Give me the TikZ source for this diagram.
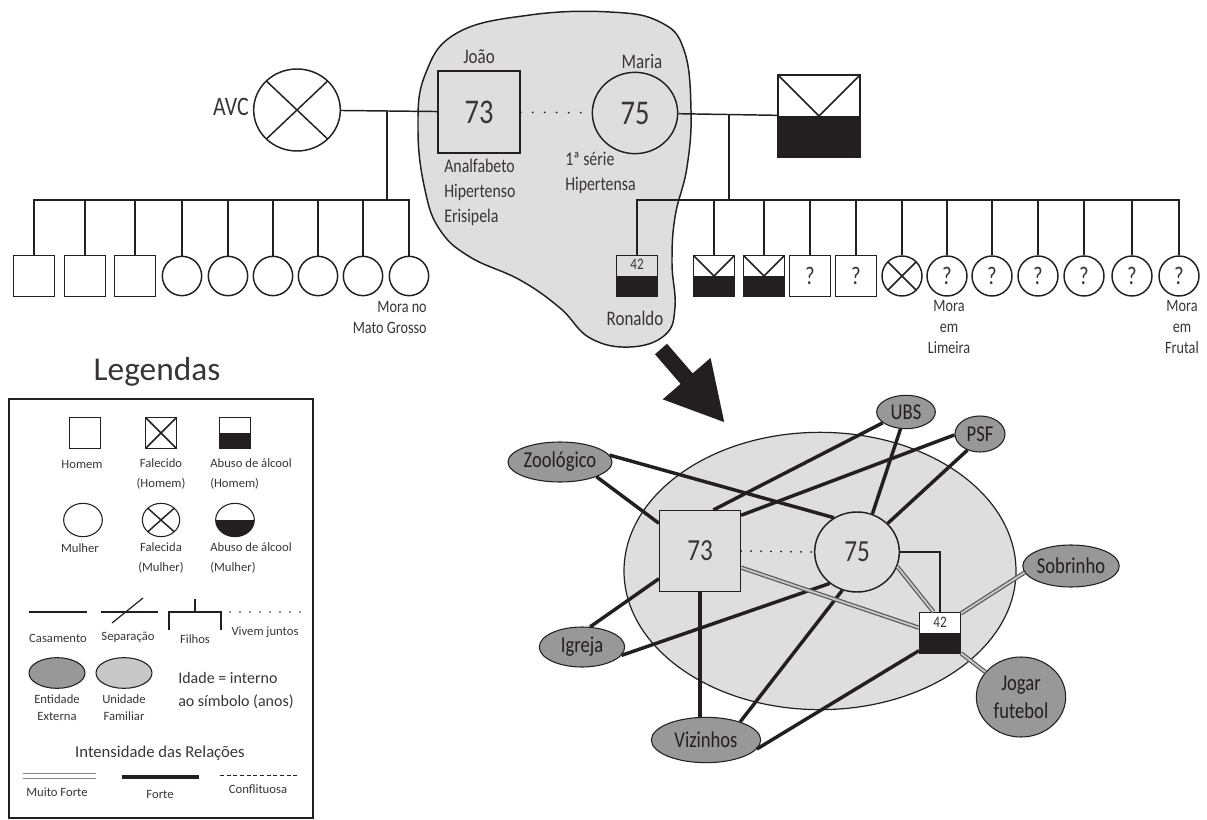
\documentclass[tikz,border=0pt]{standalone}
\usepackage{fontspec}
\setmainfont{Carlito}
\newfontfamily\estreita{Carlito}[FakeStretch=0.82]
\usepackage{tikz}
\usetikzlibrary{shapes.geometric,arrows.meta}
\definecolor{tinta}{RGB}{35,31,32}
\definecolor{cinzaclaro}{RGB}{222,222,222}
\definecolor{cinzaent}{RGB}{152,152,152}
\definecolor{cinzauni}{RGB}{200,200,200}

\tikzset{
  traco/.style={draw=tinta, line width=1.1pt},
  homem/.style={traco, rectangle, inner sep=0pt, minimum size=#1},
  mulher/.style={traco, circle, inner sep=0pt, minimum size=#1},
  cruz/.style={path picture={
    \draw[tinta, line width=1.1pt] (path picture bounding box.north west) -- (path picture bounding box.south east)
      (path picture bounding box.north east) -- (path picture bounding box.south west);}},
  alcool/.style={path picture={
    \fill[tinta] (path picture bounding box.west) rectangle (path picture bounding box.south east);}},
  cruzalcool/.style={path picture={
    \draw[tinta, line width=1.1pt] (path picture bounding box.north west) -- (path picture bounding box.south east)
      (path picture bounding box.north east) -- (path picture bounding box.south west);
    \fill[tinta] (path picture bounding box.west) rectangle (path picture bounding box.south east);}},
  rotulo/.style={inner sep=0pt, text=tinta!90, font=\estreita\fontsize{14.5}{18.75}\selectfont},
  nota/.style={inner sep=0pt, text=tinta!90, font=\estreita\fontsize{13}{15.75}\selectfont},
  legtxt/.style={inner sep=0pt, text=tinta!90, font=\fontsize{9.5}{15}\selectfont},
  vivem/.style={draw=tinta, line width=1.5pt, line cap=round, dash pattern=on 0pt off #1},
  vivem/.default=8pt,
  forte/.style={draw=tinta, line width=2.6pt},
  muitoforte/.style={draw=black!65, double=black!22, double distance=1.4pt, line width=0.9pt},
  fino/.style={draw=tinta, line width=0.9pt},
  entidade/.style={draw=tinta, line width=0.8pt, fill=cinzaent, ellipse, inner sep=0pt, text=tinta,
    font=\estreita\fontsize{17}{21}\selectfont},
}

\begin{document}
\begin{tikzpicture}[x=0.75pt,y=0.75pt,yscale=-1,xscale=1]
\useasboundingbox (0,0) rectangle (1207,820);

%Shape: Blob (unidade familiar)
\filldraw[fill=cinzaclaro, draw=tinta, line width=1.1pt] plot[smooth cycle, tension=0.7] coordinates {
  (457,33) (530,15) (610,12) (660,22) (684,50) (691,110) (687,167) (675,217) (672,263) (675,307)
  (665,335) (630,347) (590,338) (560,308) (520,280) (470,257) (440,230) (425,190) (418,130) (425,75)};

%Genograma: pais
\node[mulher=61.5pt, ellipse, minimum width=65pt, cruz] (avc) at (297,110) {};
\node[homem=61.5pt, font=\estreita\fontsize{26}{28}\selectfont, text=tinta!90] (joao) at (479,112) {73};
\node[mulher=61pt, ellipse, minimum width=64pt, font=\estreita\fontsize{26}{28}\selectfont, text=tinta!90] (maria) at (635,113) {75};
\node[homem=61.5pt, cruzalcool] (marido2) at (819,116) {};

% Text Node
\node[rotulo, font=\estreita\fontsize{20}{22}\selectfont, anchor=east] (avclbl) at (249,107) {AVC};
\node[rotulo, font=\estreita\fontsize{15.5}{17}\selectfont] (joaolbl) at (479,57) {João};
\node[rotulo, font=\estreita\fontsize{15.5}{17}\selectfont] (marialbl) at (642,61) {Maria};
\node[rotulo, align=left, anchor=north west] (joaoobs) at (444,159) {Analfabeto\\Hipertenso\\Erisipela};
\node[rotulo, align=left, anchor=north west] (mariaobs) at (565,152) {1ª série\\Hipertensa};

%Straight Lines: casamentos
\draw[traco] (avc) -- (joao);
\draw[vivem=9pt] (joao) -- (maria);
\draw[traco] (maria) -- (marido2);

%Filhos do primeiro casamento
\coordinate (uniao1) at (387,111);
\coordinate (barraE) at (0,200);
\draw[traco] (uniao1) -- (uniao1 |- barraE);
\foreach \n/\x in {fm1/34,fm2/85,fm3/135}{
  \node[homem=31pt] (\n) at (\x,276) {};
  \draw[traco] (\n.north) -- (\n.north |- barraE);
}
\foreach \n/\x in {fe1/182,fe2/228,fe3/273,fe4/318,fe5/363,fe6/409}{
  \node[mulher=29.5pt] (\n) at (\x,276) {};
  \draw[traco] (\n.north) -- (\n.north |- barraE);
}
\draw[traco] (fm1.north) |- (barraE -| fe6.north) -- (fe6.north);
\node[nota, align=right, anchor=north east] (fe6obs) at (427,301) {Mora no\\Mato Grosso};

%Filhos do segundo casamento
\coordinate (uniao2) at (729,114);
\coordinate (barraD) at (0,200);
\draw[traco] (uniao2) -- (uniao2 |- barraD);
\node[homem=31pt, alcool] (ron) at (637,276) {};
\node[anchor=north, inner sep=3.5pt, text=tinta!90, font=\estreita\fontsize{12}{12}\selectfont] (ronidade) at (ron.north) {42};
\node[rotulo, font=\estreita\fontsize{15.5}{17}\selectfont] (ronlbl) at (635,318) {Ronaldo};
\foreach \n/\x in {fd1/714,fd2/764}{
  \node[homem=31pt, cruzalcool] (\n) at (\x,276) {};
  \draw[traco] (\n.north) -- (\n.north |- barraD);
}
\foreach \n/\x in {fq1/810,fq2/856}{
  \node[homem=31pt, text=tinta!90, font=\estreita\fontsize{19}{19}\selectfont] (\n) at (\x,276) {?};
  \draw[traco] (\n.north) -- (\n.north |- barraD);
}
\node[mulher=30pt, cruz] (fx) at (902,276) {};
\draw[traco] (fx.north) -- (fx.north |- barraD);
\foreach \n/\x in {fc1/947,fc2/992,fc3/1038,fc4/1084,fc5/1132,fc6/1179}{
  \node[mulher=30pt, text=tinta!90, font=\estreita\fontsize{19}{19}\selectfont] (\n) at (\x,276) {?};
  \draw[traco] (\n.north) -- (\n.north |- barraD);
}
\draw[traco] (ron.north) |- (barraD -| fc6.north) -- (fc6.north);
\node[nota, align=center, anchor=north] (fc1obs) at (949,300) {Mora\\em\\Limeira};
\node[nota, align=center, anchor=north] (fc6obs) at (1182,300) {Mora\\em\\Frutal};

%Seta para o ecomapa
\coordinate (setaini) at (661,349);
\coordinate (setafim) at (725,423);
\draw[tinta, line width=12pt, -{Triangle[length=44pt, width=44pt]}] (setaini) -- (setafim);

%Ecomapa
\node[ellipse, draw=tinta, line width=0.9pt, fill=cinzaclaro, minimum width=294pt, minimum height=208pt] (familia) at (820,571) {};
\node[homem=60.5pt, fill=cinzaclaro, text=tinta!90, font=\estreita\fontsize{23}{25}\selectfont] (e73) at (700,551) {73};
\node[mulher=60pt, ellipse, minimum width=63.5pt, fill=cinzaclaro, text=tinta!90, font=\estreita\fontsize{23}{25}\selectfont] (e75) at (857,552) {75};
\node[homem=30.5pt, fill=white, alcool] (e42) at (940,633) {};
\node[anchor=north, inner sep=3.5pt, text=tinta!90, font=\estreita\fontsize{12}{12}\selectfont] (e42idade) at (e42.north) {42};

\node[entidade, minimum width=78pt, minimum height=30pt] (zoo) at (560,462) {Zoológico};
\node[entidade, minimum width=44pt, minimum height=25pt] (ubs) at (906,412) {UBS};
\node[entidade, minimum width=37.5pt, minimum height=27pt] (psf) at (980,434) {PSF};
\node[entidade, minimum width=70pt, minimum height=31.5pt] (sob) at (1071,566) {Sobrinho};
\node[entidade, minimum width=64pt, minimum height=30pt] (igr) at (582,647) {Igreja};
\node[entidade, minimum width=82pt, minimum height=34pt] (viz) at (706,740) {Vizinhos};
\node[entidade, minimum width=67pt, minimum height=60pt, align=center] (jog) at (1021,697) {Jogar\\futebol};

%Relacoes
\draw[vivem=7.5pt] (e73.east) -- (e75.west);
\draw[forte] (zoo.-22) -- (e73.146);
\draw[forte] (zoo.8) -- (e75.124);
\draw[forte] (ubs.205) -- (e73.72);
\draw[forte] (psf.182) -- (e73.41);
\draw[forte] (ubs.252) -- (e75.68);
\draw[forte] (psf.232) -- (e75.43);
\draw[forte] (e73.214) -- (igr.68);
\draw[forte] (e75.229) -- (igr.-12);
\draw[forte] (e73.south) -- (e73.south |- viz.north);
\draw[forte] (e75.249) -- (viz.28);
\draw[forte] (e42.220) -- (viz.-10);
\draw[fino] (e75.east) -| (e42.north);
\draw[muitoforte] (e75.-20) -- (e42.107);
\draw[muitoforte] (e73.-22) -- (e42.166);
\draw[muitoforte] (e42.43) -- (sob.188);
\draw[muitoforte] (e42.-44) -- (jog.145);

%Legenda
\node[inner sep=0pt, text=tinta!90, font=\fontsize{25}{27}\selectfont] (legtitulo) at (157,372) {Legendas};
\draw[tinta, line width=1.1pt] (9,399) rectangle (313,818);

\node[homem=23pt, line width=0.8pt] (lhomem) at (85,433) {};
\node[homem=23pt, line width=0.8pt, cruz] (lfalecido) at (161,433) {};
\node[homem=23pt, line width=0.8pt, alcool] (lalcool) at (235,433) {};
\node[legtxt] (lhomemtxt) at (82,464) {Homem};
\node[legtxt, align=center] (lfalecidotxt) at (161,474) {Falecido\\(Homem)};
\node[legtxt, align=left, anchor=west] (lalcooltxt) at (210,474) {Abuso de álcool\\(Homem)};

\node[mulher=25pt, ellipse, minimum width=29pt, line width=0.8pt] (lmulher) at (83,520) {};
\node[mulher=25pt, ellipse, minimum width=28pt, line width=0.8pt, cruz] (lfalecida) at (161,520) {};
\node[mulher=25pt, ellipse, minimum width=29pt, line width=0.8pt, alcool] (lalcoolm) at (235,520) {};
\node[legtxt] (lmulhertxt) at (80,548) {Mulher};
\node[legtxt, align=center] (lfalecidatxt) at (161,558) {Falecida\\(Mulher)};
\node[legtxt, align=left, anchor=west] (lalcoolmtxt) at (210,558) {Abuso de álcool\\(Mulher)};

%Legenda: linhas
\draw[traco, line width=0.9pt] (29,612) -- (87,612);
\draw[traco, line width=0.9pt] (101,612) -- (158,612);
\draw[traco, line width=0.9pt] (112,623) -- (143,598);
\draw[traco, line width=0.9pt] (169,630) -- (169,612) -- (221,612) -- (221,630);
\draw[traco, line width=0.9pt] (195,612) -- (195,599);
\draw[vivem=7.5pt, line width=1.2pt] (230,612) -- (302,612);
\node[legtxt] (lcasamento) at (58,638) {Casamento};
\node[legtxt] (lseparacao) at (128,637) {Separação};
\node[legtxt] (lfilhos) at (195,639) {Filhos};
\node[legtxt] (lvivem) at (265,632) {Vivem juntos};

\node[ellipse, draw=tinta, line width=0.8pt, fill=cinzaent, minimum width=42pt, minimum height=23pt] (lentidade) at (57,673) {};
\node[ellipse, draw=tinta, line width=0.8pt, fill=cinzauni, minimum width=42pt, minimum height=23pt] (lunidade) at (124,673) {};
\node[legtxt, align=center, font=\fontsize{9.5}{12.75}\selectfont] (lentidadetxt) at (57,708) {Entidade\\Externa};
\node[legtxt, align=center, font=\fontsize{9.5}{12.75}\selectfont] (lunidadetxt) at (124,708) {Unidade\\Familiar};
\node[legtxt, align=left, anchor=west, font=\fontsize{12}{17.25}\selectfont] (lidade) at (178,691) {Idade = interno\\ao símbolo (anos)};

\node[legtxt, font=\fontsize{12.5}{14}\selectfont] (lintensidade) at (160,753) {Intensidade das Relações};
\draw[muitoforte, double distance=3pt, draw=black!50, double=white] (23,776) -- (96,776);
\draw[forte, line width=3pt] (122,777) -- (199,777);
\draw[tinta, line width=0.7pt, dash pattern=on 3pt off 2pt] (220,775) -- (298,775);
\node[legtxt] (lmuitoforte) at (57,792) {Muito Forte};
\node[legtxt] (lforte) at (160,794) {Forte};
\node[legtxt] (lconflituosa) at (258,789) {Conflituosa};

\end{tikzpicture}
\end{document}
